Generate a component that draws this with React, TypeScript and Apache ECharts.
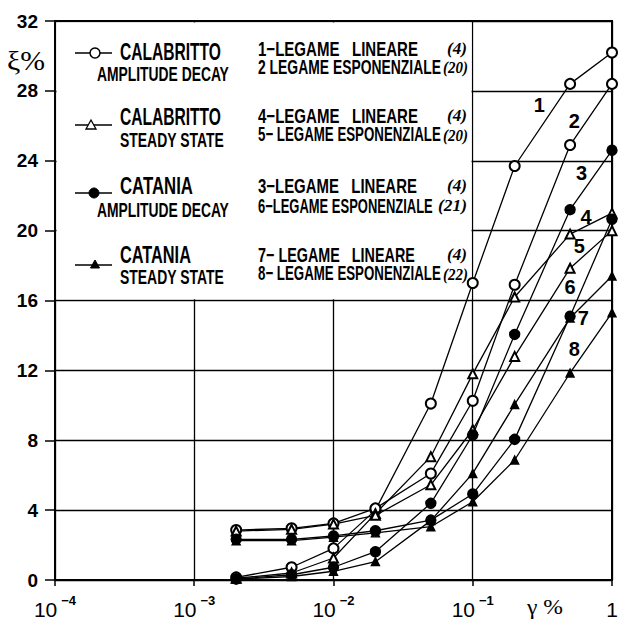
import React, { useEffect, useRef } from "react";
import * as echarts from "echarts";

// strain (%) at which every curve was measured
const strain = [0.002, 0.005, 0.01, 0.02, 0.05, 0.1, 0.2, 0.5, 1];

// damping ratio ξ (%) – Calabritto, amplitude decay (open circles)
const curve1 = [0.15, 0.73, 1.81, 4.0, 10.1, 17.0, 23.7, 28.4, 30.2];
const curve2 = [2.86, 2.96, 3.24, 4.1, 6.1, 10.26, 16.9, 24.9, 28.4];
// Calabritto, steady state (open triangles)
const curve4 = [0.1, 0.4, 1.26, 3.8, 7.06, 11.8, 16.2, 19.8, 21.0];
const curve5 = [2.8, 2.9, 3.2, 3.7, 5.45, 8.6, 12.8, 17.85, 20.0];
// Catania, amplitude decay (filled circles)
const curve3 = [0.05, 0.3, 0.73, 1.62, 4.39, 8.3, 14.06, 21.2, 24.6];
const curve6 = [2.33, 2.33, 2.52, 2.82, 3.43, 4.92, 8.05, 15.1, 20.65];
// Catania, steady state (filled triangles)
const curve7 = [0.05, 0.2, 0.5, 1.05, 3.4, 6.1, 10.05, 15.0, 17.4];
const curve8 = [2.25, 2.25, 2.45, 2.7, 3.05, 4.48, 6.87, 11.85, 15.3];

// curve numbers written next to the lines: [strain, ξ, text]
const curveTags: [number, number, string][] = [
  [0.3, 27.2, "1"],
  [0.536, 26.3, "2"],
  [0.605, 23.3, "3"],
  [0.65, 20.8, "4"],
  [0.582, 19.1, "5"],
  [0.499, 16.8, "6"],
  [0.622, 15.0, "7"],
  [0.536, 13.2, "8"],
];

const yTicks = ["0", "4", "8", "12", "16", "20", "24", "28", "32"];

const FONT = "'Liberation Sans', Arial, sans-serif";
const SERIF = "'Liberation Serif', 'DejaVu Serif', serif";

const W = 622;
const H = 621;
const GL = 55;
const GT = 21;
const GR = 612;
const GB = 580;

let measureCtx: CanvasRenderingContext2D | null = null;
function measure(text: string, font: string): number {
  if (!measureCtx) measureCtx = document.createElement("canvas").getContext("2d");
  if (!measureCtx) return text.length * 10;
  measureCtx.font = font;
  return measureCtx.measureText(text).width;
}

export default function App() {
  const ref = useRef<HTMLDivElement>(null);

  useEffect(() => {
    if (!ref.current) return;
    const chart = echarts.init(ref.current, undefined, { renderer: "svg" });

    const mk = (name: string, vals: number[], symbol: string, size: number) => ({
      name,
      type: "line",
      data: strain.map((x, i) => [x, vals[i]]),
      symbol,
      symbolSize: size,
      showAllSymbol: true,
      lineStyle: { color: "#000", width: 1.3 },
      itemStyle: { color: "#000", borderColor: "#000", borderWidth: 1.4 },
      z: 3,
    });

    const boxRight = GL + ((GR - GL) * 3) / 4;
    const boxBottom = GT + (GB - GT) / 2;

    // text squeezed horizontally to the width it has in the original figure
    const fit = (
      text: string,
      x: number,
      y: number,
      width: number,
      size = 18,
      font = FONT,
      weight = "bold",
      style = "normal"
    ) => {
      const f = `${style} ${weight} ${size}px ${font}`;
      const w = measure(text, f);
      return {
        type: "text",
        x,
        y,
        z: 5,
        scaleX: w > 0 ? width / w : 1,
        style: {
          text,
          fill: "#000",
          font: f,
          textAlign: "left",
          textVerticalAlign: "middle",
        },
      };
    };

    const legendLine = (y: number) => ({
      type: "line",
      z: 5,
      shape: { x1: 75, y1: y, x2: 112, y2: y },
      style: { stroke: "#000", lineWidth: 1.5 },
    });

    const graphic: any[] = [
      {
        type: "rect",
        z: 1,
        shape: {
          x: GL + 1.5,
          y: GT + 1.5,
          width: boxRight - 1.2 - (GL + 1.5),
          height: boxBottom - 1.2 - (GT + 1.5),
        },
        style: { fill: "#fff" },
      },
      // legend markers
      legendLine(53),
      { type: "circle", z: 6, shape: { cx: 95, cy: 53, r: 5 }, style: { fill: "#fff", stroke: "#000", lineWidth: 1.5 } },
      legendLine(125),
      { type: "polygon", z: 6, shape: { points: [[91, 120], [96, 129], [86, 129]] }, style: { fill: "#fff", stroke: "#000", lineWidth: 1.3 } },
      legendLine(193),
      { type: "circle", z: 6, shape: { cx: 94, cy: 193, r: 5 }, style: { fill: "#000", stroke: "#000", lineWidth: 1 } },
      legendLine(265),
      { type: "polygon", z: 6, shape: { points: [[95, 260], [99.5, 268], [90.5, 268]] }, style: { fill: "#000", stroke: "#000", lineWidth: 1 } },
      // legend texts, left column
      fit("CALABRITTO", 120, 52, 101, 23),
      fit("AMPLITUDE DECAY", 97, 74, 132, 21),
      fit("CALABRITTO", 120, 117, 101, 23),
      fit("STEADY STATE", 120, 140, 104, 21),
      fit("CATANIA", 120, 186, 73, 23),
      fit("AMPLITUDE DECAY", 97, 210, 132, 21),
      fit("CATANIA", 120, 255, 71, 23),
      fit("STEADY STATE", 120, 277, 104, 21),
      // right column
      fit("1−LEGAME   LINEARE", 258, 49, 160, 20),
      fit("2 LEGAME ESPONENZIALE", 258, 67, 183, 20),
      fit("4−LEGAME   LINEARE", 258, 116, 160, 20),
      fit("5− LEGAME ESPONENZIALE", 258, 135, 183, 20),
      fit("3−LEGAME   LINEARE", 258, 186, 159, 20),
      fit("6−LEGAME ESPONENZIALE", 258, 206, 175, 20),
      fit("7− LEGAME   LINEARE", 258, 255, 157, 20),
      fit("8− LEGAME ESPONENZIALE", 258, 274, 183, 20),

      fit("(4)", 447, 49, 20, 17, SERIF, "bold", "italic"),
      fit("(20)", 443, 67, 25, 17, SERIF, "bold", "italic"),
      fit("(4)", 447, 116, 20, 17, SERIF, "bold", "italic"),
      fit("(20)", 443, 135, 25, 17, SERIF, "bold", "italic"),
      fit("(4)", 447, 186, 20, 17, SERIF, "bold", "italic"),
      fit("(21)", 438, 206, 29, 17, SERIF, "bold", "italic"),
      fit("(4)", 447, 255, 20, 17, SERIF, "bold", "italic"),
      fit("(22)", 443, 274, 25, 17, SERIF, "bold", "italic"),

      // axis names
      fit("ξ%", 7, 61, 38, 27, SERIF, "normal"),
      fit("γ %", 527, 607, 36, 21, SERIF, "normal"),
    ];

    const option: any = {
      animation: false,
      backgroundColor: "#fff",
      grid: {
        left: GL,
        top: GT,
        right: W - GR,
        bottom: H - GB,
        show: true,
        borderColor: "#000",
        borderWidth: 2,
        backgroundColor: "#fff",
      },
      xAxis: {
        type: "log",
        logBase: 10,
        min: 0.0001,
        max: 1,
        axisLine: { show: true, lineStyle: { color: "#000", width: 2 } },
        axisTick: { show: true, length: 6, lineStyle: { color: "#000", width: 1.5 } },
        splitLine: { show: true, lineStyle: { color: "#000", width: 1.3 } },
        axisLabel: {
          margin: 14,
          color: "#000",
          formatter: (v: number) => {
            const e = Math.round(Math.log10(v));
            if (e === 0) return "{b|1}";
            return `{b|10}{s|−${-e}}`;
          },
          rich: {
            b: { fontFamily: FONT, fontSize: 21, fontWeight: "normal", color: "#000", lineHeight: 26, verticalAlign: "bottom" },
            s: { fontFamily: FONT, fontSize: 13, fontWeight: "bold", color: "#000", lineHeight: 26, verticalAlign: "top", padding: [0, 0, 0, 4] },
          },
        },
      },
      yAxis: {
        type: "value",
        min: 0,
        max: 32,
        interval: 4,
        axisLine: { show: true, lineStyle: { color: "#000", width: 2 } },
        axisTick: { show: true, length: 10, lineStyle: { color: "#000", width: 1.5 } },
        splitLine: { show: true, lineStyle: { color: "#000", width: 1.3 } },
        axisLabel: {
          margin: 17,
          color: "#000",
          fontFamily: FONT,
          fontSize: 19,
          fontWeight: "bold",
          formatter: (v: number) => yTicks[Math.round(v / 4)] ?? String(v),
        },
      },
      series: [
        mk("1 Calabritto amplitude decay – legame lineare", curve1, "emptyCircle", 10),
        mk("2 Calabritto amplitude decay – legame esponenziale", curve2, "emptyCircle", 10),
        mk("4 Calabritto steady state – legame lineare", curve4, "emptyTriangle", 9),
        mk("5 Calabritto steady state – legame esponenziale", curve5, "emptyTriangle", 9),
        mk("3 Catania amplitude decay – legame lineare", curve3, "circle", 10),
        mk("6 Catania amplitude decay – legame esponenziale", curve6, "circle", 10),
        mk("7 Catania steady state – legame lineare", curve7, "triangle", 8),
        mk("8 Catania steady state – legame esponenziale", curve8, "triangle", 8),
        {
          name: "curve numbers",
          type: "scatter",
          symbolSize: 0,
          z: 4,
          itemStyle: { color: "#000", opacity: 1 },
          data: curveTags.map((t) => ({ value: [t[0], t[1]], name: t[2] })),
          label: {
            show: true,
            position: "inside",
            formatter: (p: any) => p.name,
            fontFamily: FONT,
            fontSize: 20,
            fontWeight: "bold",
            color: "#000",
            opacity: 1,
            textBorderWidth: 0,
          },
        },
      ],
      graphic,
    };

    chart.setOption(option);
    return () => chart.dispose();
  }, []);

  return (
    <div
      ref={ref}
      style={{ position: "fixed", left: 0, top: 0, width: W, height: H, background: "#fff" }}
    />
  );
}
